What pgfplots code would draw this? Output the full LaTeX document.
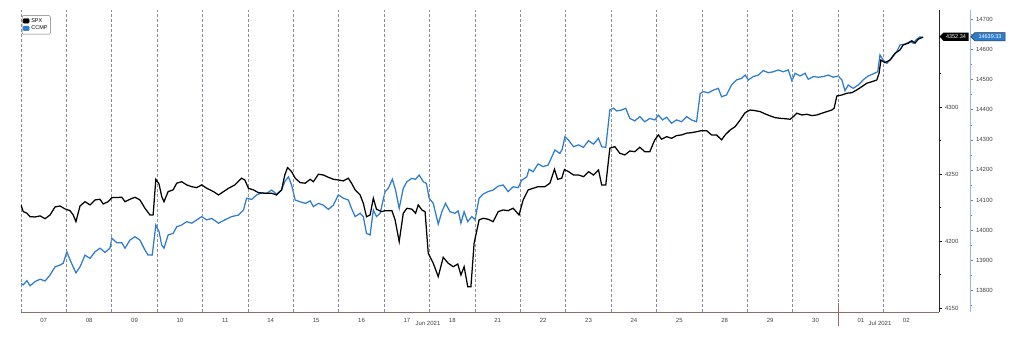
\documentclass[border=0pt]{standalone}
\usepackage{fontspec}
\setmainfont{Liberation Sans}
\usepackage{pgfplots}
\pgfplotsset{compat=1.18}
\definecolor{ccmpblue}{RGB}{45,125,205}
\definecolor{axbrown}{RGB}{140,112,102}
\definecolor{gridc}{RGB}{135,140,165}
\definecolor{axblue}{RGB}{150,185,222}
\begin{document}
\begin{tikzpicture}[x=1pt,y=1pt]
\path[use as bounding box] (0,0) rectangle (1024,341);
% CCMP (second, wider axis so its y axis sits further right)
\begin{axis}[at={(21pt,29pt)}, anchor=south west, width=949pt, height=302pt, scale only axis,
 xmin=0, xmax=20.903, ymin=13728, ymax=14731.2,
 axis x line=none, axis y line*=right,
 y axis line style={axblue, line width=0.9pt},
 scaled y ticks=false,
 ytick={13800,13900,...,14700}, minor ytick={13750,13850,...,14650},
 tick align=outside, major tick length=2.5pt, minor tick length=1.5pt,
 ytick style={axblue!70!black, line width=0.5pt},
 yticklabel style={font=\fontsize{6}{7}\selectfont, text=black!75, /pgf/number format/1000 sep={}, /pgf/number format/assume math mode=true},
 ]
\addplot[ccmpblue, line width=1.25pt, forget plot] coordinates {
(0,13823)(0.05,13818)(0.13,13832)(0.20,13815)(0.31,13829)(0.42,13837)(0.53,13831)(0.64,13851)(0.75,13878)(0.86,13884)(0.93,13890)(1.01,13928)(1.08,13901)(1.15,13878)(1.21,13858)(1.30,13878)(1.41,13917)(1.52,13906)(1.63,13928)(1.74,13940)(1.85,13926)(1.96,13940)(2.00,13973)(2.11,13958)(2.22,13958)(2.29,13940)(2.40,13967)(2.51,13978)(2.62,13967)(2.73,13934)(2.80,13917)(2.89,13917)(2.97,14017)(3.04,13995)(3.10,13950)(3.15,13940)(3.24,13984)(3.35,13989)(3.43,14011)(3.54,14017)(3.65,14028)(3.76,14023)(3.87,14034)(3.98,14045)
(4.09,14034)(4.20,14039)(4.35,14023)(4.49,14034)(4.64,14045)(4.79,14050)(4.90,14067)(4.97,14106)(5.08,14102)(5.19,14117)(5.30,14124)(5.41,14122)(5.52,14133)(5.63,14120)(5.74,14133)(5.81,14161)(5.89,14177)(5.96,14150)(6.04,14100)(6.15,14094)(6.26,14089)(6.37,14097)(6.44,14078)(6.55,14089)(6.66,14083)(6.77,14069)(6.88,14083)(6.99,14117)(7.10,14106)(7.21,14100)(7.28,14072)(7.36,14045)(7.47,14056)(7.54,14045)(7.61,13989)(7.69,13984)(7.76,14067)(7.83,14045)(7.91,14056)
(8.02,14128)(8.09,14139)(8.18,14169)(8.25,14133)(8.33,14072)(8.42,14139)(8.50,14161)(8.61,14172)(8.69,14169)(8.77,14183)(8.86,14161)(8.93,14155)(8.99,14106)(9.08,14089)(9.19,14020)(9.27,14061)(9.35,14089)(9.45,14061)(9.56,14056)(9.63,14064)(9.69,14023)(9.76,14061)(9.84,14028)(9.93,14045)(10.00,14034)(10.09,14106)(10.18,14120)(10.29,14128)(10.40,14133)(10.51,14146)(10.62,14150)(10.73,14128)(10.84,14144)(10.95,14141)(11.03,14166)(11.14,14177)(11.19,14202)(11.28,14194)(11.39,14220)(11.50,14211)(11.61,14216)(11.76,14266)(11.87,14255)(11.92,14268)(11.98,14310)
(12.06,14299)(12.17,14277)(12.28,14283)(12.39,14275)(12.50,14297)(12.61,14286)(12.72,14305)(12.79,14277)(12.88,14275)(12.97,14399)(13.05,14405)(13.12,14396)(13.23,14399)(13.32,14405)(13.41,14371)(13.52,14363)(13.63,14377)(13.74,14360)(13.85,14371)(13.96,14366)(14.04,14382)(14.13,14366)(14.22,14375)(14.33,14355)(14.44,14366)(14.55,14360)(14.66,14377)(14.77,14366)(14.88,14360)(14.96,14454)(15.03,14460)(15.14,14456)(15.25,14465)(15.36,14471)(15.43,14443)(15.54,14449)(15.65,14482)(15.76,14499)(15.87,14504)(15.95,14515)
(16.02,14499)(16.13,14510)(16.24,14515)(16.35,14530)(16.46,14523)(16.57,14526)(16.68,14532)(16.79,14526)(16.90,14532)(16.98,14496)(17.05,14521)(17.16,14512)(17.27,14521)(17.34,14501)(17.45,14510)(17.56,14508)(17.67,14510)(17.78,14515)(17.89,14508)(18.00,14512)(18.08,14499)(18.15,14463)(18.22,14482)(18.33,14471)(18.44,14482)(18.55,14499)(18.66,14512)(18.77,14519)(18.87,14526)(18.92,14582)(18.99,14565)(19.07,14554)(19.18,14571)(19.29,14593)(19.36,14615)(19.47,14618)(19.58,14626)(19.65,14621)(19.73,14634)(19.80,14642)(19.87,14639.33)
};
\end{axis}
% SPX (main axis)
\begin{axis}[at={(21pt,29pt)}, anchor=south west, width=918pt, height=302pt, scale only axis,
 xmin=0, xmax=20.22, ymin=4147.2, ymax=4372.5,
 axis x line*=bottom, axis y line*=right,
 x axis line style={axbrown, line width=0.9pt},
 y axis line style={black!85, line width=0.9pt},
 scaled y ticks=false,
 xtick={0.5,1.5,...,19.5},
 xticklabels={07,08,09,10,11,14,15,16,17,18,21,22,23,24,25,28,29,30,01,02},
 minor xtick={0,1,...,19}, xminorgrids=true,
 minor grid style={gridc, dash pattern=on 3pt off 2pt, line width=0.8pt},
 xtick style={draw=none},
 xticklabel style={font=\fontsize{6}{7}\selectfont, text=black!75},
 ytick={4150,4200,4250,4300}, minor ytick={4175,4225,4275,4325},
 tick align=outside, major tick length=2.5pt, minor tick length=2pt,
 ytick style={black, line width=0.6pt},
 yticklabel style={font=\fontsize{6}{7}\selectfont, text=black!75, /pgf/number format/1000 sep={}, /pgf/number format/assume math mode=true},
 legend style={at={(0.001,0.982)}, anchor=north west, draw=black!55, rounded corners=1pt, font=\fontsize{5.5}{6}\selectfont, inner sep=0.8pt, row sep=-1.8pt, fill=white, cells={anchor=west}},
 legend image code/.code={\fill[#1] (0pt,-2pt) rectangle (6pt,2.6pt);},
 ]
\addlegendimage{black}
\addlegendentry{SPX}
\addlegendimage{ccmpblue}
\addlegendentry{CCMP}
\addplot[black, line width=1.25pt, forget plot] coordinates {
(0,4227.1)(0.05,4222.1)(0.13,4220.9)(0.20,4218.3)(0.31,4218.1)(0.42,4218.9)(0.53,4216.8)(0.64,4219.6)(0.75,4225.6)(0.86,4226.3)(0.97,4224.1)(1.08,4222.8)(1.15,4219.6)(1.21,4214.6)(1.30,4226.3)(1.41,4229.5)(1.52,4227.1)(1.63,4230.8)(1.74,4231.3)(1.81,4227.8)(1.92,4229.5)(2.00,4232.5)(2.22,4232.8)(2.29,4229.5)(2.40,4231.3)(2.51,4232.8)(2.62,4230.8)(2.73,4224.6)(2.84,4219.6)(2.91,4219.6)(2.97,4246.2)(3.04,4242.7)(3.10,4233.3)(3.15,4229.5)(3.24,4237.0)(3.35,4238.3)(3.43,4243.3)(3.54,4244.4)(3.65,4242.0)(3.76,4240.7)(3.87,4240.0)(3.98,4242.0)
(4.09,4239.5)(4.24,4237.0)(4.35,4234.5)(4.46,4237.0)(4.57,4239.5)(4.71,4242.0)(4.86,4247.0)(4.93,4245.7)(5.01,4239.5)(5.12,4238.3)(5.23,4236.2)(5.37,4235.8)(5.52,4235.8)(5.63,4234.5)(5.74,4238.3)(5.81,4249.4)(5.87,4254.9)(5.96,4251.9)(6.04,4247.0)(6.15,4243.7)(6.26,4243.3)(6.37,4246.2)(6.44,4244.4)(6.55,4250.0)(6.66,4249.4)(6.77,4247.7)(6.88,4246.2)(6.99,4245.7)(7.10,4245.0)(7.21,4247.0)(7.28,4243.3)(7.36,4238.3)(7.47,4234.5)(7.54,4228.3)(7.61,4218.3)(7.69,4219.6)(7.76,4232.1)(7.83,4223.9)(7.94,4222.1)
(8.02,4222.8)(8.17,4222.8)(8.24,4215.9)(8.33,4199.7)(8.42,4220.9)(8.50,4224.6)(8.61,4223.9)(8.69,4220.9)(8.75,4227.1)(8.83,4223.3)(8.90,4222.1)(8.97,4191.0)(9.08,4183.6)(9.19,4173.6)(9.30,4188.0)(9.41,4183.6)(9.52,4181.0)(9.62,4183.0)(9.69,4174.8)(9.76,4181.0)(9.84,4166.1)(9.91,4166.1)(9.98,4198.5)(10.09,4215.9)(10.18,4217.1)(10.29,4216.4)(10.40,4214.6)(10.51,4222.1)(10.62,4223.3)(10.73,4222.8)(10.84,4224.6)(10.97,4219.6)(11.06,4230.8)(11.17,4238.3)(11.28,4239.5)(11.39,4240.7)(11.54,4240.7)(11.65,4243.3)(11.75,4253.7)(11.82,4246.2)(11.91,4247.0)(11.97,4253.5)
(12.06,4251.9)(12.17,4249.4)(12.28,4249.4)(12.39,4248.2)(12.50,4251.9)(12.61,4249.4)(12.72,4253.2)(12.79,4242.0)(12.88,4242.0)(12.97,4269.4)(13.08,4270.6)(13.19,4265.6)(13.30,4264.4)(13.41,4267.3)(13.52,4266.8)(13.63,4270.1)(13.74,4266.8)(13.85,4266.8)(13.96,4275.6)(14.04,4279.3)(14.11,4276.1)(14.22,4278.0)(14.33,4276.8)(14.44,4278.8)(14.55,4279.3)(14.66,4280.6)(14.77,4281.0)(14.88,4281.7)(14.99,4282.5)(15.10,4282.5)(15.21,4279.3)(15.32,4279.3)(15.43,4275.6)(15.51,4279.3)(15.62,4283.0)(15.73,4285.5)(15.84,4290.5)(15.95,4295.9)
(16.06,4297.9)(16.17,4297.4)(16.28,4296.7)(16.39,4295.0)(16.50,4293.5)(16.61,4292.2)(16.72,4291.7)(16.83,4291.4)(16.94,4291.0)(17.01,4292.9)(17.09,4295.5)(17.20,4294.2)(17.31,4294.7)(17.42,4293.7)(17.53,4294.2)(17.64,4295.5)(17.75,4296.7)(17.86,4297.9)(17.91,4299.2)(17.97,4308.4)(18.08,4309.1)(18.19,4310.4)(18.30,4310.8)(18.41,4312.9)(18.52,4315.3)(18.63,4317.9)(18.74,4319.0)(18.85,4320.3)(18.90,4325.3)(18.94,4335.2)(19.03,4333.2)(19.14,4335.2)(19.25,4340.2)(19.36,4342.7)(19.43,4346.4)(19.54,4347.7)(19.62,4349.6)(19.69,4347.7)(19.76,4350.7)(19.87,4352.34)
};
\end{axis}
% month boundary tick and month labels
\draw[axbrown, line width=1pt] (838,38) -- (838,15);
\node[font=\fontsize{6}{7}\selectfont, text=black!75] at (428,17.5) {Jun 2021};
\node[font=\fontsize{6}{7}\selectfont, text=black!75] at (880,17.5) {Jul 2021};
% last value labels
\fill[black] (939.5,304.3) -- (943.5,308.4) -- (968.5,308.4) -- (968.5,300.2) -- (943.5,300.2) -- cycle;
\node[font=\fontsize{5.5}{6}\selectfont, text=white, inner sep=0pt] at (956,304.3) {4352.34};
\filldraw[fill=ccmpblue, draw=black!80, line width=0.5pt] (970.8,304.3) -- (974.8,308.4) -- (1005,308.4) -- (1005,300.2) -- (974.8,300.2) -- cycle;
\node[font=\fontsize{5.5}{6}\selectfont, text=white, inner sep=0pt] at (990,304.3) {14639.33};
\end{tikzpicture}
\end{document}
